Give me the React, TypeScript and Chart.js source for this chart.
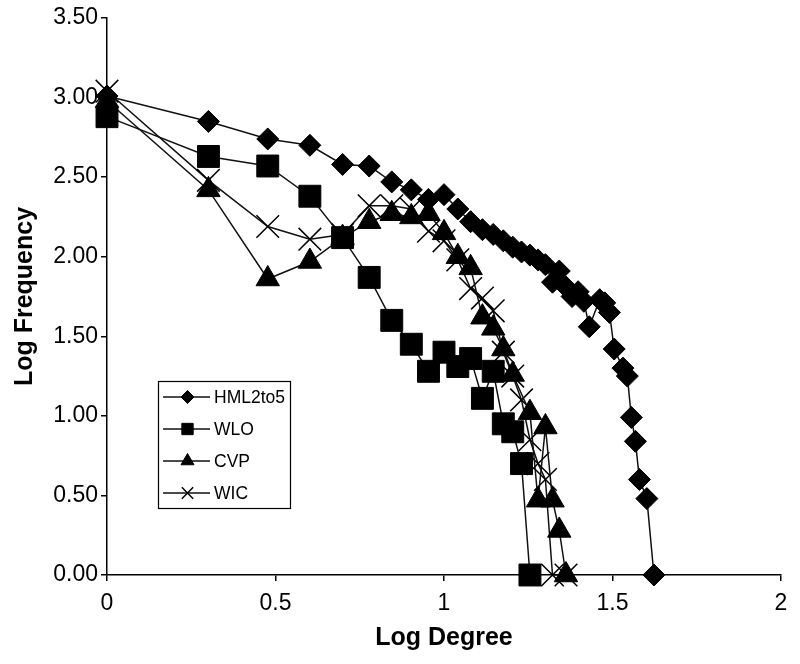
import React, { useEffect, useRef } from 'react';
import { Chart, registerables } from 'chart.js';
import { drawPoint } from 'chart.js/helpers';

Chart.register(...registerables);

const FONT = "'Liberation Sans', Arial, Helvetica, sans-serif";

// Series names
const seriesNames = ['HML2to5', 'WLO', 'CVP', 'WIC'];

// HML2to5 (diamonds)
const hmlX = [0, 0.301, 0.477, 0.602, 0.699, 0.778, 0.845, 0.903, 0.954, 1.0, 1.041, 1.079, 1.114, 1.146, 1.176, 1.204, 1.23, 1.255, 1.279, 1.301, 1.322, 1.342, 1.362, 1.38, 1.398, 1.415, 1.431, 1.462, 1.477, 1.491, 1.505, 1.531, 1.544, 1.556, 1.568, 1.58, 1.602, 1.623];
const hmlY = [3.01, 2.85, 2.74, 2.7, 2.58, 2.57, 2.47, 2.42, 2.36, 2.39, 2.3, 2.22, 2.17, 2.14, 2.1, 2.06, 2.03, 2.01, 1.98, 1.95, 1.84, 1.91, 1.81, 1.75, 1.78, 1.72, 1.56, 1.73, 1.71, 1.65, 1.42, 1.3, 1.25, 0.99, 0.84, 0.6, 0.48, 0];

// WLO (squares)
const wloX = [0, 0.301, 0.477, 0.602, 0.699, 0.778, 0.845, 0.903, 0.954, 1.0, 1.041, 1.079, 1.114, 1.146, 1.176, 1.204, 1.23, 1.255];
const wloY = [2.88, 2.63, 2.57, 2.38, 2.12, 1.87, 1.6, 1.45, 1.28, 1.4, 1.31, 1.36, 1.11, 1.28, 0.95, 0.9, 0.7, 0];

// CVP (triangles)
const cvpX = [0, 0.301, 0.477, 0.602, 0.699, 0.778, 0.845, 0.903, 0.954, 1.0, 1.041, 1.079, 1.114, 1.146, 1.176, 1.204, 1.255, 1.279, 1.301, 1.322, 1.342, 1.362];
const cvpY = [2.98, 2.42, 1.86, 1.97, 2.12, 2.22, 2.27, 2.25, 2.27, 2.15, 2.0, 1.93, 1.62, 1.55, 1.42, 1.26, 1.02, 0.47, 0.93, 0.47, 0.28, 0];

// WIC (crosses)
const wicX = [0, 0.301, 0.477, 0.602, 0.699, 0.778, 0.845, 0.903, 0.954, 1.0, 1.041, 1.079, 1.114, 1.146, 1.176, 1.204, 1.23, 1.255, 1.279, 1.301, 1.322, 1.362];
const wicY = [3.04, 2.48, 2.19, 2.11, 2.14, 2.32, 2.32, 2.3, 2.16, 2.1, 1.98, 1.8, 1.74, 1.66, 1.4, 1.25, 1.1, 0.85, 0.7, 0.6, 0, 0];

// Axis ranges
const xMin = 0, xMax = 2, xStep = 0.5;
const yMin = 0, yMax = 3.5, yStep = 0.5;

const pts = (xs: number[], ys: number[]) => xs.map((x, i) => ({ x, y: ys[i] }));

const styles = [
  { pointStyle: 'rectRot', radius: 11, legendRadius: 6.5, borderWidth: 1 },
  { pointStyle: 'rect', radius: 15.5, legendRadius: 8, borderWidth: 1 },
  { pointStyle: 'triangle', radius: 13.5, legendRadius: 7.5, borderWidth: 1 },
  { pointStyle: 'crossRot', radius: 16, legendRadius: 8, borderWidth: 1.5 },
];

const boxLegend = {
  id: 'boxLegend',
  afterDraw(chart: any) {
    const ctx = chart.ctx;
    const bx = 158, by = 381, bw = 132, bh = 127;
    ctx.save();
    ctx.fillStyle = '#fff';
    ctx.fillRect(bx, by, bw, bh);
    ctx.strokeStyle = '#000';
    ctx.lineWidth = 1.2;
    ctx.strokeRect(bx + 0.5, by + 0.5, bw, bh);
    chart.data.datasets.forEach((ds: any, i: number) => {
      const y = by + 16 + i * 32;
      ctx.strokeStyle = '#111';
      ctx.lineWidth = 1.5;
      ctx.beginPath();
      ctx.moveTo(bx + 5, y);
      ctx.lineTo(bx + 52, y);
      ctx.stroke();
      const st = styles[i];
      ctx.fillStyle = '#000';
      ctx.strokeStyle = '#000';
      ctx.lineWidth = st.borderWidth;
      drawPoint(ctx, { pointStyle: st.pointStyle, radius: st.legendRadius, borderWidth: st.borderWidth, rotation: 0 } as any, bx + 29.5, y);
      ctx.fillStyle = '#000';
      ctx.font = `17.5px ${FONT}`;
      ctx.textBaseline = 'middle';
      ctx.textAlign = 'left';
      ctx.fillText(ds.label, bx + 56, y + 1);
    });
    ctx.restore();
  },
};

const whiteBg = {
  id: 'whiteBg',
  beforeDraw(chart: any) {
    const ctx = chart.ctx;
    ctx.save();
    ctx.fillStyle = '#fff';
    ctx.fillRect(0, 0, chart.width, chart.height);
    ctx.restore();
  },
};

export default function App() {
  const ref = useRef<HTMLCanvasElement | null>(null);

  useEffect(() => {
    if (!ref.current) return;
    const seriesData = [pts(hmlX, hmlY), pts(wloX, wloY), pts(cvpX, cvpY), pts(wicX, wicY)];
    const datasets = seriesData.map((d, i) => ({
      label: seriesNames[i],
      data: d,
      showLine: true,
      borderColor: '#111',
      borderWidth: 1.5,
      backgroundColor: '#000',
      pointStyle: styles[i].pointStyle,
      pointRadius: styles[i].radius,
      pointHoverRadius: styles[i].radius,
      pointBackgroundColor: '#000',
      pointBorderColor: '#000',
      pointBorderWidth: styles[i].borderWidth,
      clip: false,
      tension: 0,
    }));

    const gridCfg = {
      display: true,
      drawOnChartArea: false,
      drawTicks: true,
      tickLength: 6,
      color: '#000',
      lineWidth: 1.5,
    };

    const chart = new Chart(ref.current, {
      type: 'scatter',
      data: { datasets } as any,
      options: {
        responsive: false,
        animation: false,
        devicePixelRatio: 1,
        layout: { padding: { top: 18, right: 19, left: 0, bottom: 0 } },
        plugins: {
          legend: { display: false },
          tooltip: { enabled: false },
        },
        scales: {
          x: {
            type: 'linear',
            min: xMin,
            max: xMax,
            ticks: {
              stepSize: xStep,
              color: '#000',
              font: { family: FONT, size: 23 },
              padding: 9,
              callback: (v: any) => String(Number(v)),
            },
            grid: gridCfg as any,
            border: { display: true, color: '#000', width: 1.5 },
            title: {
              display: true,
              text: 'Log Degree',
              color: '#000',
              font: { family: FONT, size: 25, weight: 'bold' },
              padding: { top: 0, bottom: 11 },
            },
            afterFit: (s: any) => { s.height = 89; },
          },
          y: {
            type: 'linear',
            min: yMin,
            max: yMax,
            ticks: {
              stepSize: yStep,
              color: '#000',
              font: { family: FONT, size: 23 },
              padding: 3,
              callback: (v: any) => Number(v).toFixed(2),
            },
            grid: gridCfg as any,
            border: { display: true, color: '#000', width: 1.5 },
            title: {
              display: true,
              text: 'Log Frequency',
              color: '#000',
              font: { family: FONT, size: 25, weight: 'bold' },
              padding: { top: 10, bottom: 0 },
            },
            afterFit: (s: any) => { s.width = 107; },
          },
        },
      } as any,
      plugins: [whiteBg, boxLegend],
    });
    return () => chart.destroy();
  }, []);

  return (
    <div style={{ position: 'absolute', left: 0, top: 0, width: 800, height: 664, background: '#fff' }}>
      <canvas ref={ref} width={800} height={664} style={{ width: 800, height: 664, display: 'block' }} />
    </div>
  );
}
